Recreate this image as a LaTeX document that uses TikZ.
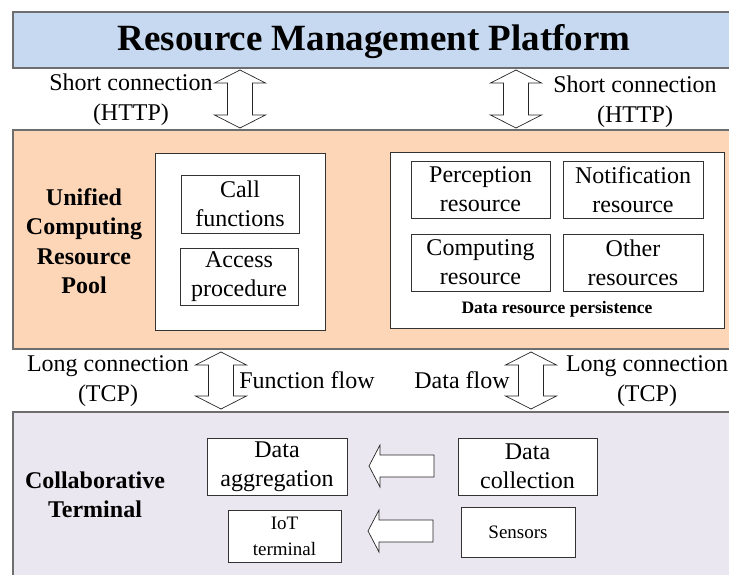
\documentclass[tikz,border=0pt]{standalone}
\usepackage{fontspec}
\setmainfont{Liberation Serif}
\definecolor{platblue}{RGB}{198,217,240}
\definecolor{poolpeach}{RGB}{252,214,183}
\definecolor{termlav}{RGB}{235,231,240}
\definecolor{bandline}{RGB}{110,110,110}

% vertical double block arrow: centre x, top tip y, bottom tip y
\newcommand\UpDownArrow[3]{%
  \draw[blockarr] (#1,#2) -- (#1+25.5,#2+13) -- (#1+12.5,#2+13)
    -- (#1+12.5,#3-13) -- (#1+25.5,#3-13) -- (#1,#3)
    -- (#1-25.5,#3-13) -- (#1-12.5,#3-13) -- (#1-12.5,#2+13)
    -- (#1-25.5,#2+13) -- cycle;}
% left-pointing block arrow: tip x, centre y, tail x
\newcommand\LeftBlockArrow[3]{%
  \draw[blockarr] (#1,#2) -- (#1+11,#2-21) -- (#1+11,#2-11)
    -- (#3,#2-11) -- (#3,#2+11) -- (#1+11,#2+11) -- (#1+11,#2+21) -- cycle;}

\begin{document}
\begin{tikzpicture}[x=1pt,y=-1pt,
  band/.style={draw=bandline, line width=1.1pt},
  frame/.style={draw=black!80, line width=0.8pt, fill=white, inner sep=0pt, anchor=north west},
  box/.style={draw=black!80, line width=0.7pt, fill=white, align=center, inner sep=0pt,
    font=\fontsize{24}{29}\selectfont},
  smallbox/.style={box, font=\fontsize{19}{26}\selectfont},
  lbl/.style={align=center, inner sep=0pt, font=\fontsize{24}{30}\selectfont},
  blbl/.style={align=center, inner sep=0pt, font=\bfseries\fontsize{24}{29.5}\selectfont},
  blockarr/.style={draw=black!85, line width=0.7pt, fill=white, line join=miter}]
\useasboundingbox (0,0) rectangle (729,575);
\clip (0,0) rectangle (729,575);

% the three horizontal layers
\draw[band, fill=platblue]  (13,12)  rectangle (745,68);
\draw[band, fill=poolpeach] (13,130) rectangle (745,349);
\draw[band, fill=termlav]   (13,412) rectangle (745,590);

\node[inner sep=0pt, font=\bfseries\fontsize{37}{40}\selectfont] (platform) at (374,41.5)
  {Resource Management Platform};

% unified computing resource pool
\node[blbl] (pool) at (84,241) {Unified\\Computing\\Resource\\Pool};
\node[frame, minimum width=170pt, minimum height=177pt] (funcframe) at (155,153) {};
\node[box, minimum width=118pt, minimum height=58pt] (call) at (240,204) {Call\\functions};
\node[box, minimum width=118pt, minimum height=57pt] (access) at (239,277) {Access\\procedure};

\node[frame, minimum width=334pt, minimum height=176pt] (dataframe) at (390,152) {};
\node[box, minimum width=139pt, minimum height=57pt] (percep) at (480.5,189.5) {Perception\\resource};
\node[box, minimum width=140pt, minimum height=57pt] (notif) at (633,189.5) {Notification\\resource};
\node[box, minimum width=139pt, minimum height=57pt] (comput) at (480.5,262.5) {Computing\\resource};
\node[box, minimum width=140pt, minimum height=57pt] (other) at (633,262.5) {Other\\resources};
\node[inner sep=0pt, font=\bfseries\fontsize{17.5}{20}\selectfont] (persist) at (557,309.5)
  {Data resource persistence};

% collaborative terminal
\node[blbl] (terminal) at (95,495) {Collaborative\\Terminal};
\node[box, minimum width=140pt, minimum height=57pt] (aggr) at (277,466.5) {Data\\aggregation};
\node[box, minimum width=139pt, minimum height=57pt] (collect) at (527.5,466.5) {Data\\collection};
\node[smallbox, minimum width=113pt, minimum height=52pt] (iot) at (284.5,536) {IoT\\terminal};
\node[smallbox, minimum width=114pt, minimum height=50pt] (sensors) at (518,532) {Sensors};

\LeftBlockArrow{369}{466}{434}
\LeftBlockArrow{368}{531}{433}

% links between layers
\UpDownArrow{240}{70}{128}
\UpDownArrow{516}{70}{128}
\UpDownArrow{221}{352}{409}
\UpDownArrow{531}{352}{409}

\node[lbl] (httpl) at (131,100) {Short connection\\(HTTP)};
\node[lbl] (httpr) at (635,102) {Short connection\\(HTTP)};
\node[lbl] (tcpl) at (108,381) {Long connection\\(TCP)};
\node[lbl] (tcpr) at (647,381) {Long connection\\(TCP)};
\node[lbl] (funcflow) at (307,380) {Function flow};
\node[lbl] (dataflow) at (462,380) {Data flow};
\end{tikzpicture}
\end{document}
